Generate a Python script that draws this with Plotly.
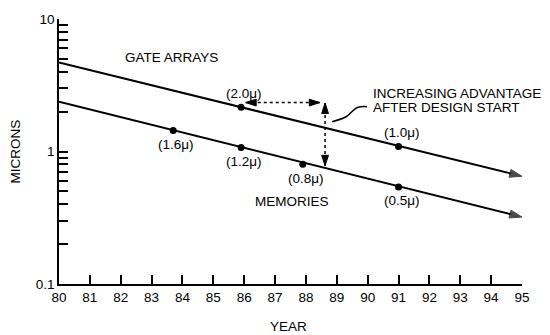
import numpy as np
import plotly.graph_objects as go

# ---- data ----
year_ticks = list(range(80, 96))
micron_major = [0.1, 1, 10]
micron_major_text = ["0.1", "1", "10"]
micron_minor = [0.2, 0.3, 0.4, 0.5, 0.6, 0.7, 0.8, 0.9, 2, 3, 4, 5, 6, 7, 8, 9]

gate_line_years = [80, 95]
gate_line_microns = [4.7, 0.65]
gate_point_years = [85.9, 91.0]
gate_point_microns = [2.16, 1.09]
gate_point_labels = ["(2.0μ)", "(1.0μ)"]

mem_line_years = [80, 95]
mem_line_microns = [2.38, 0.32]
mem_point_years = [83.7, 85.9, 87.9, 91.0]
mem_point_microns = [1.44, 1.07, 0.80, 0.54]
mem_point_labels = ["(1.6μ)", "(1.2μ)", "(0.8μ)", "(0.5μ)"]

adv_h_years = [86.05, 88.45]
adv_h_microns = [2.34, 2.34]
adv_v_years = [88.62, 88.62]
adv_v_microns = [2.32, 0.78]

leader_years = [88.85, 89.3, 89.65, 89.98]
leader_microns = [1.68, 1.83, 2.14, 2.18]

FONT = "Liberation Sans, Arial, sans-serif"
FS = 13.5

fig = go.Figure()

for xs, ys in [(gate_line_years, gate_line_microns), (mem_line_years, mem_line_microns)]:
    fig.add_trace(go.Scatter(
        x=xs, y=ys, mode="lines+markers",
        line=dict(color="black", width=2),
        marker=dict(symbol=["circle", "arrow"], size=[0, 13], color="black",
                    line=dict(color="black", width=1), angleref="previous"),
        cliponaxis=False, showlegend=False, hoverinfo="skip"))

fig.add_trace(go.Scatter(
    x=gate_point_years + mem_point_years,
    y=gate_point_microns + mem_point_microns,
    mode="markers", marker=dict(symbol="circle", size=7, color="black"),
    cliponaxis=False, showlegend=False, hoverinfo="skip"))

# advantage dotted arrows
fig.add_trace(go.Scatter(
    x=adv_h_years, y=adv_h_microns, mode="lines+markers",
    line=dict(color="black", width=1.5, dash="dot"),
    marker=dict(symbol="arrow", size=11, color="black", angle=[-90, 90],
                line=dict(color="black", width=1)),
    cliponaxis=False, showlegend=False, hoverinfo="skip"))
fig.add_trace(go.Scatter(
    x=adv_v_years, y=adv_v_microns, mode="lines+markers",
    line=dict(color="black", width=1.5, dash="dot"),
    marker=dict(symbol="arrow", size=11, color="black", angle=[0, 180],
                line=dict(color="black", width=1)),
    cliponaxis=False, showlegend=False, hoverinfo="skip"))

fig.add_trace(go.Scatter(
    x=leader_years, y=leader_microns, mode="lines",
    line=dict(color="black", width=1.5, shape="spline"),
    showlegend=False, hoverinfo="skip"))

txt = dict(family=FONT, size=FS, color="black")
annots = []
for xs, ys, labs, shift in [
    (gate_point_years, gate_point_microns, gate_point_labels, 14),
    (mem_point_years, mem_point_microns, mem_point_labels, -14),
]:
    for x, y, t in zip(xs, ys, labs):
        annots.append(dict(x=x, y=np.log10(y), text=t, showarrow=False,
                           xanchor="center", yanchor="middle",
                           xshift=3, yshift=shift, font=txt))

annots += [
    dict(x=83.66, y=np.log10(5.1), text="GATE ARRAYS", showarrow=False,
         xanchor="center", yanchor="middle", font=txt),
    dict(x=87.55, y=np.log10(0.42), text="MEMORIES", showarrow=False,
         xanchor="center", yanchor="middle", font=txt),
    dict(x=90.1, y=np.log10(2.73), text="INCREASING ADVANTAGE", showarrow=False,
         xanchor="left", yanchor="middle", font=txt),
    dict(x=90.1, y=np.log10(2.14), text="AFTER DESIGN START", showarrow=False,
         xanchor="left", yanchor="middle", font=txt),
    dict(xref="paper", yref="paper", x=-0.093, y=0.5, text="MICRONS",
         textangle=-90, showarrow=False, xanchor="center", yanchor="middle",
         font=txt),
    dict(xref="paper", yref="paper", x=0.495, y=-0.162, text="YEAR",
         showarrow=False, xanchor="center", yanchor="middle", font=txt),
]

fig.update_layout(
    width=550, height=335,
    margin=dict(l=51, r=36, t=11, b=59),
    paper_bgcolor="white", plot_bgcolor="white",
    annotations=annots,
    font=txt,
    xaxis=dict(range=[80, 95], tickmode="array", tickvals=year_ticks,
               ticks="inside", ticklen=9, tickwidth=1.5, tickcolor="black",
               showline=True, linewidth=1.5, linecolor="black",
               showgrid=False, zeroline=False, tickfont=txt, automargin=False),
    yaxis=dict(type="log", range=[-1, 1], tickmode="array",
               tickvals=micron_major, ticktext=micron_major_text,
               ticks="inside", ticklen=9, tickwidth=1.5, tickcolor="black",
               minor=dict(tickmode="array", tickvals=micron_minor,
                          ticks="inside", ticklen=9, tickwidth=1.5,
                          tickcolor="black", showgrid=False),
               showline=True, linewidth=1.5, linecolor="black",
               showgrid=False, zeroline=False, tickfont=txt, automargin=False),
)

fig.write_html("out.html")
